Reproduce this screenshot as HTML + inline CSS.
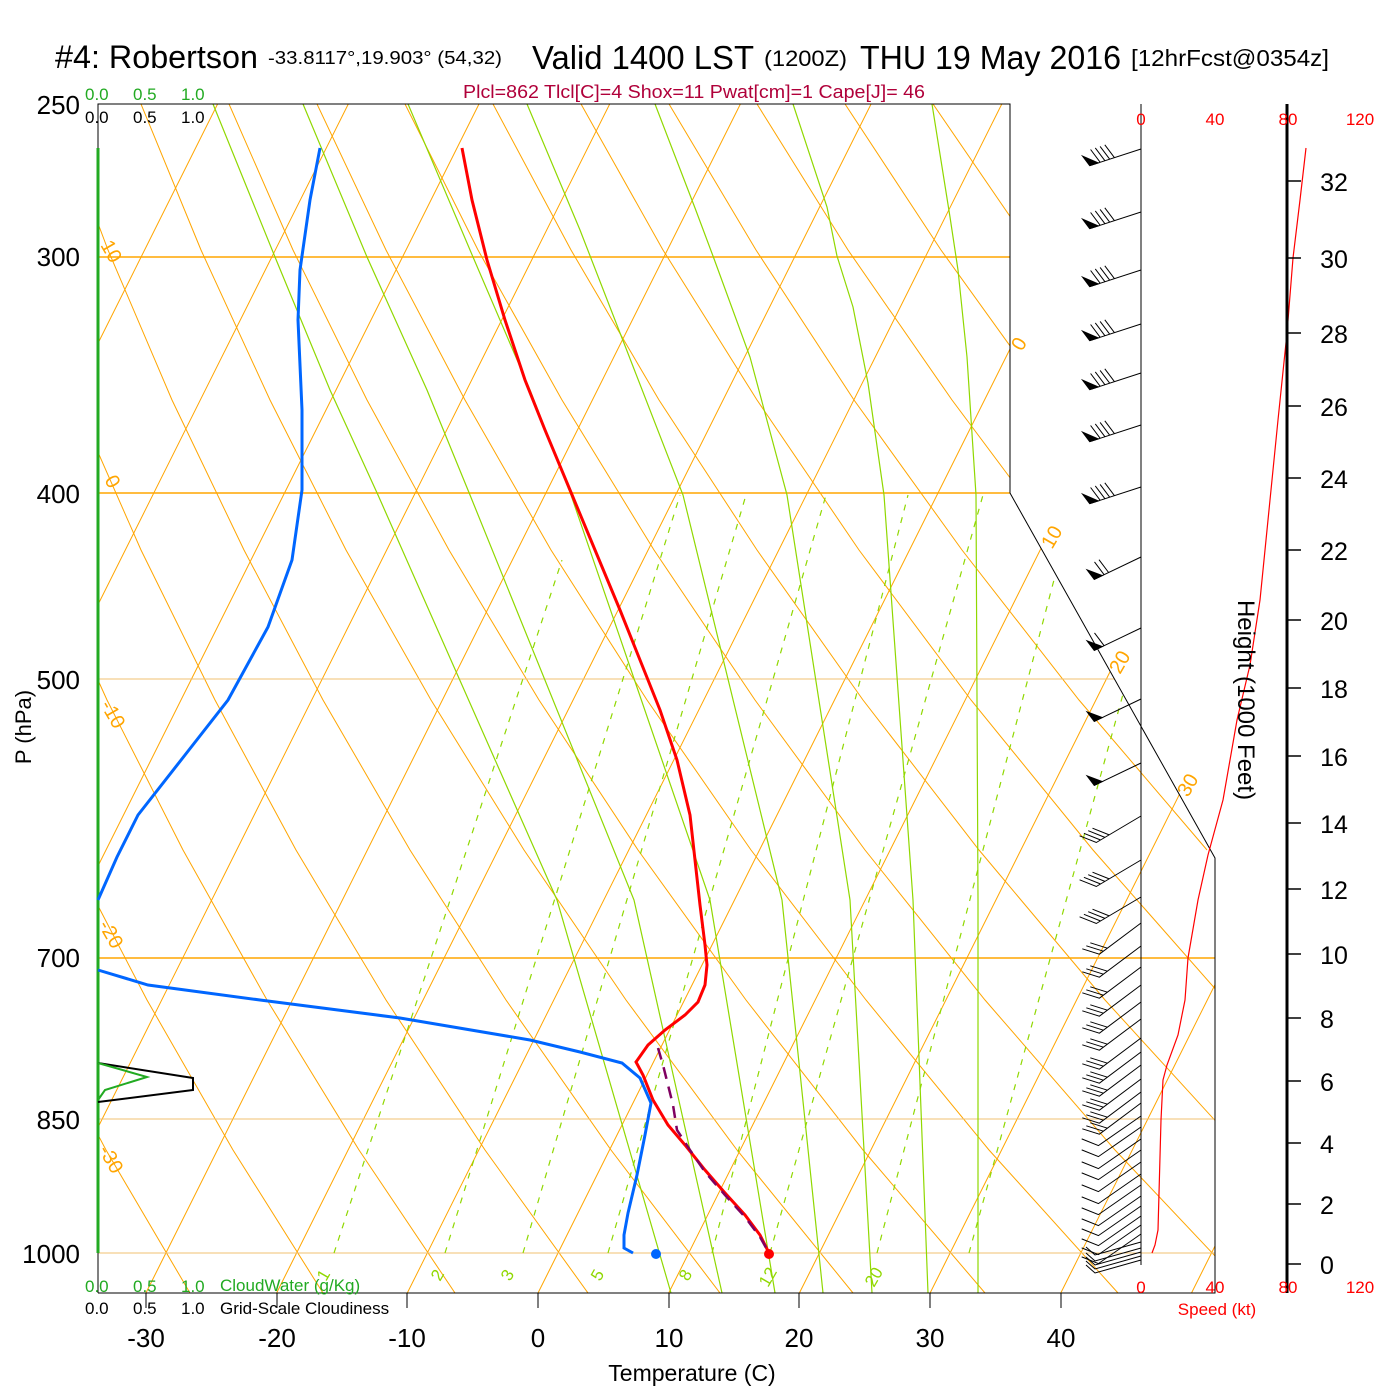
<!DOCTYPE html>
<html><head><meta charset="utf-8"><style>
html,body{margin:0;padding:0;background:#fff}
svg{display:block}
text{font-family:"Liberation Sans",Arial,sans-serif}
</style></head><body>
<svg width="1400" height="1400" viewBox="0 0 1400 1400" xmlns="http://www.w3.org/2000/svg">
<defs>
<clipPath id="cp"><polygon points="98,104 1010,104 1010,493 1215,858 1215,1293 98,1293"/></clipPath>
<g id="b1"><polyline points="1141,0 1089.7,16.7" fill="none"/><polygon points="1089.7,16.7 1098.3,13.9 1082.5,7.1"/><path d="M1100.2,13.3L1090.6,0.5M1104.9,11.7L1095.3,-1.1M1109.7,10.2L1100.1,-2.6M1114.4,8.6L1104.8,-4.2" fill="none"/></g>
<g id="b2a"><polyline points="1141,0 1094.2,22.4" fill="none"/><polygon points="1094.2,22.4 1102.3,18.5 1087,12.8"/><path d="M1104.1,17.7L1094.5,4.9M1108.6,15.5L1099,2.7" fill="none"/></g>
<g id="b2b"><polyline points="1141,0 1094.2,22.4" fill="none"/><polygon points="1094.2,22.4 1102.3,18.5 1087,12.8"/><path d="M1104.1,17.7L1094.5,4.9" fill="none"/></g>
<g id="b2c"><polyline points="1141,0 1094.2,22.4" fill="none"/><polygon points="1094.2,22.4 1102.3,18.5 1087,12.8"/></g>
<g id="b3" fill="none"><path d="M1141,0L1096.3,26.5L1079.6,19.8M1100.6,24L1083.9,17.3M1104.9,21.4L1088.2,14.7M1109.2,18.9L1092.5,12.2"/></g>
<g id="b4" fill="none"><path d="M1141,0L1099.4,31.2L1082.3,25.8M1103.4,28.2L1086.3,22.8M1107.4,25.2L1090.3,19.8"/></g>
<g id="b5" fill="none"><path d="M1141,0L1098.4,29.6L1081.7,22.9"/></g>
<g id="b6" fill="none"><path d="M1141,0L1095,13L1086,5"/></g>
</defs>
<rect width="1400" height="1400" fill="#fff"/>
<g clip-path="url(#cp)" fill="none" stroke="#ffa500" stroke-width="1">
<line x1="-507.6" y1="1293" x2="86.9" y2="104"/>
<line x1="-376.9" y1="1293" x2="217.6" y2="104"/>
<line x1="-246.2" y1="1293" x2="348.3" y2="104"/>
<line x1="-115.5" y1="1293" x2="479" y2="104"/>
<line x1="15.2" y1="1293" x2="609.7" y2="104"/>
<line x1="145.9" y1="1293" x2="740.4" y2="104"/>
<line x1="276.6" y1="1293" x2="871.1" y2="104"/>
<line x1="407.3" y1="1293" x2="1001.8" y2="104"/>
<line x1="538" y1="1293" x2="1132.5" y2="104"/>
<line x1="668.7" y1="1293" x2="1263.2" y2="104"/>
<line x1="799.4" y1="1293" x2="1393.9" y2="104"/>
<line x1="930.1" y1="1293" x2="1524.6" y2="104"/>
<line x1="1060.8" y1="1293" x2="1655.3" y2="104"/>
<line x1="1191.5" y1="1293" x2="1786" y2="104"/>
<polyline points="-387,104 -354,250 -315,400 -269,550 -217,700 -159,850 -93,1000 -20,1150 58,1293"/>
<polyline points="-299,104 -262,250 -217,400 -167,550 -109,700 -45,850 27,1000 106,1150 190,1293"/>
<polyline points="-211,104 -169,250 -120,400 -64,550 -1,700 69,850 147,1000 233,1150 323,1293"/>
<polyline points="-123,104 -77,250 -22,400 39,550 107,700 183,850 267,1000 359,1150 455,1293"/>
<polyline points="-35,104 16,250 75,400 141,550 215,700 296,850 386,1000 485,1150 588,1293"/>
<polyline points="53,104 108,250 172,400 244,550 323,700 410,850 506,1000 611,1150 720,1293"/>
<polyline points="141,104 201,250 270,400 346,550 431,700 524,850 626,1000 737,1150 853,1293"/>
<polyline points="229,104 293,250 367,400 449,550 539,700 638,850 746,1000 863,1150 985,1293"/>
<polyline points="317,104 386,250 465,400 551,550 647,700 751,850 866,1000 989,1150 1118,1293"/>
<polyline points="405,104 478,250 562,400 654,550 755,700 865,850 985,1000 1115,1150 1250,1293"/>
<polyline points="493,104 571,250 659,400 757,550 863,700 979,850 1105,1000 1242,1150"/>
<polyline points="581,104 663,250 757,400 859,550 971,700 1093,850 1225,1000"/>
<polyline points="669,104 756,250 854,400 962,550 1079,700 1207,850"/>
<polyline points="757,104 848,250 952,400 1064,550 1187,700"/>
<polyline points="845,104 941,250 1049,400 1167,550"/>
<polyline points="933,104 1033,250 1146,400"/>
<polyline points="1020,104 1126,250"/>
</g>
<g clip-path="url(#cp)" fill="none" stroke="#ffa500">
<line x1="98" y1="257" x2="1010" y2="257" stroke-width="1.5"/>
<line x1="98" y1="493" x2="1010" y2="493" stroke-width="1.5"/>
<line x1="98" y1="679" x2="1215" y2="679" stroke="#f0c070"/>
<line x1="98" y1="958" x2="1215" y2="958" stroke-width="1.5"/>
<line x1="98" y1="1119" x2="1215" y2="1119" stroke="#f0c070"/>
<line x1="98" y1="1253" x2="1215" y2="1253" stroke="#f0c070"/>
</g>
<g fill="none" stroke="#90d800" stroke-width="1.2">
<polyline points="213,104 275,257 330,390 378,495 557,900 671,1293"/>
<polyline points="303,104 367,257 427,390 470,495 634,900 722,1293"/>
<polyline points="408,104 473,257 530,390 571,495 710,900 775,1293"/>
<polyline points="527,104 580,230 683,495 782,900 823,1293"/>
<polyline points="655,104 695,208 713,256 750,357 787,495 850,900 872,1293"/>
<polyline points="793,104 827,207 837,256 853,307 868,383 884,495 913,900 928,1293"/>
<polyline points="932,104 950,217 958,270 967,357 976,495 978,900 978,1293"/>
</g>
<g clip-path="url(#cp)" fill="none" stroke="#90d800" stroke-width="1.2" stroke-dasharray="6,7">
<line x1="334" y1="1253" x2="562" y2="560"/>
<line x1="445" y1="1253" x2="680" y2="495"/>
<line x1="523" y1="1253" x2="746" y2="495"/>
<line x1="608" y1="1253" x2="826" y2="495"/>
<line x1="712" y1="1253" x2="908" y2="495"/>
<line x1="770" y1="1253" x2="983" y2="495"/>
<line x1="877" y1="1253" x2="1075" y2="500"/>
<line x1="969" y1="1253" x2="1160" y2="560"/>
</g>
<g fill="#90d800" font-size="17">
<text transform="translate(326,1282) rotate(-60)">1</text>
<text transform="translate(440,1282) rotate(-60)">2</text>
<text transform="translate(510,1282) rotate(-60)">3</text>
<text transform="translate(600,1282) rotate(-60)">5</text>
<text transform="translate(688,1282) rotate(-60)">8</text>
<text transform="translate(768,1288) rotate(-60)">12</text>
<text transform="translate(874,1288) rotate(-60)">20</text>
</g>
<g fill="#ffa500" font-size="20">
<text transform="translate(100,245) rotate(60)">10</text>
<text transform="translate(104,480) rotate(60)">0</text>
<text transform="translate(100,705) rotate(60)">-10</text>
<text transform="translate(98,925) rotate(60)">-20</text>
<text transform="translate(98,1150) rotate(60)">-30</text>
<text transform="translate(1022,352) rotate(-60)">0</text>
<text transform="translate(1052,550) rotate(-60)">10</text>
<text transform="translate(1120,675) rotate(-60)">20</text>
<text transform="translate(1188,798) rotate(-60)">30</text>
</g>
<g fill="none" stroke="#000" stroke-width="1">
<polyline points="98,1293 98,104 1010,104 1010,493 1215,858 1215,1293 98,1293"/>
<line x1="146" y1="1293" x2="146" y2="1308"/><line x1="277" y1="1293" x2="277" y2="1308"/>
<line x1="407" y1="1293" x2="407" y2="1308"/><line x1="538" y1="1293" x2="538" y2="1308"/>
<line x1="669" y1="1293" x2="669" y2="1308"/><line x1="799" y1="1293" x2="799" y2="1308"/>
<line x1="930" y1="1293" x2="930" y2="1308"/><line x1="1061" y1="1293" x2="1061" y2="1308"/>
<line x1="1141" y1="104" x2="1141" y2="1265"/>
</g>
<line x1="98" y1="148" x2="98" y2="1253" stroke="#22aa22" stroke-width="3"/>
<polyline points="98,1063 193,1078 193,1090 98,1102" fill="none" stroke="#000" stroke-width="2"/>
<polyline points="98,1063 147,1077 105,1090 98,1100" fill="none" stroke="#22aa22" stroke-width="2"/>
<polyline fill="none" stroke="#0066ff" stroke-width="3" points="320,148 310,200 300,270 298,320 302,410 302,490 292,560 268,627 228,700 185,755 138,815 117,857 98,900"/>
<polyline fill="none" stroke="#0066ff" stroke-width="3" points="98,970 148,985 260,1000 400,1018 530,1040 580,1052 622,1063 640,1078 651,1103 645,1135 637,1175 628,1213 624,1235 624,1248 633,1253"/>
<polyline fill="none" stroke="#ff0000" stroke-width="3" points="462,148 472,200 487,260 505,320 525,380 545,430 570,490 595,550 620,610 640,660 660,710 677,760 690,815 695,860 700,905 705,945 707,965 705,985 698,1002 685,1015 665,1030 648,1045 636,1062 643,1075 653,1100 668,1125 685,1145 705,1170 725,1193 745,1215 760,1235 769,1253"/>
<polyline fill="none" stroke="#800060" stroke-width="2.5" stroke-dasharray="12,8" points="658,1048 663,1065 668,1085 673,1105 677,1130 690,1150 705,1172 725,1195 745,1217 760,1237 769,1253"/>
<circle cx="769" cy="1254" r="5" fill="#ff0000"/>
<circle cx="656" cy="1254" r="5" fill="#0066ff"/>
<polyline fill="none" stroke="#ff0000" stroke-width="1.2" points="1306,148 1300,200 1293,258 1287,333 1278,420 1270,500 1260,600 1250,665 1237,720 1223,800 1208,855 1198,900 1188,958 1185,1000 1178,1035 1167,1065 1163,1080 1161,1120 1158,1230 1155,1245 1152,1253"/>
<g stroke="#000" fill="#000" stroke-width="1">
<use href="#b1" y="149"/><use href="#b1" y="212"/><use href="#b1" y="270"/><use href="#b1" y="324"/>
<use href="#b1" y="373"/><use href="#b1" y="425"/><use href="#b1" y="487"/>
<use href="#b2a" y="557"/><use href="#b2b" y="628"/><use href="#b2c" y="699"/><use href="#b2c" y="763"/>
<use href="#b3" y="816"/><use href="#b3" y="860"/><use href="#b3" y="897"/>
<use href="#b4" y="923"/><use href="#b4" y="946"/><use href="#b4" y="967"/><use href="#b4" y="985"/>
<use href="#b4" y="1002"/><use href="#b4" y="1019"/><use href="#b4" y="1038"/><use href="#b4" y="1052"/>
<use href="#b4" y="1065"/><use href="#b4" y="1079"/><use href="#b4" y="1092"/><use href="#b4" y="1103"/>
<use href="#b5" y="1116"/><use href="#b5" y="1127"/><use href="#b5" y="1139"/><use href="#b5" y="1150"/>
<use href="#b5" y="1162"/><use href="#b5" y="1174"/><use href="#b5" y="1185"/><use href="#b5" y="1196"/>
<use href="#b5" y="1206"/><use href="#b5" y="1216"/><use href="#b5" y="1225"/><use href="#b5" y="1234"/>
<use href="#b6" y="1242"/><use href="#b6" y="1248"/><use href="#b6" y="1252"/><use href="#b6" y="1256"/><use href="#b6" y="1260"/>
</g>
<line x1="1287" y1="104" x2="1287" y2="1293" stroke="#000" stroke-width="3"/>
<g stroke="#000" stroke-width="1.5">
<line x1="1287" y1="181" x2="1301" y2="181"/><line x1="1287" y1="258" x2="1301" y2="258"/>
<line x1="1287" y1="333" x2="1301" y2="333"/><line x1="1287" y1="406" x2="1301" y2="406"/>
<line x1="1287" y1="478" x2="1301" y2="478"/><line x1="1287" y1="550" x2="1301" y2="550"/>
<line x1="1287" y1="620" x2="1301" y2="620"/><line x1="1287" y1="688" x2="1301" y2="688"/>
<line x1="1287" y1="756" x2="1301" y2="756"/><line x1="1287" y1="823" x2="1301" y2="823"/>
<line x1="1287" y1="889" x2="1301" y2="889"/><line x1="1287" y1="954" x2="1301" y2="954"/>
<line x1="1287" y1="1018" x2="1301" y2="1018"/><line x1="1287" y1="1081" x2="1301" y2="1081"/>
<line x1="1287" y1="1143" x2="1301" y2="1143"/><line x1="1287" y1="1204" x2="1301" y2="1204"/>
<line x1="1287" y1="1264" x2="1301" y2="1264"/>
</g>
<g font-size="25" fill="#000" text-anchor="middle">
<text x="1334" y="191">32</text><text x="1334" y="268">30</text><text x="1334" y="343">28</text>
<text x="1334" y="416">26</text><text x="1334" y="488">24</text><text x="1334" y="560">22</text>
<text x="1334" y="630">20</text><text x="1334" y="698">18</text><text x="1334" y="766">16</text>
<text x="1334" y="833">14</text><text x="1334" y="899">12</text><text x="1334" y="964">10</text>
<text x="1327" y="1028">8</text><text x="1327" y="1091">6</text><text x="1327" y="1153">4</text>
<text x="1327" y="1214">2</text><text x="1327" y="1274">0</text>
</g>
<text transform="translate(1238,700) rotate(90)" font-size="24" text-anchor="middle">Height (1000 Feet)</text>
<g font-size="17" fill="#ff0000" text-anchor="middle">
<text x="1141" y="125">0</text><text x="1215" y="125">40</text><text x="1288" y="125">80</text><text x="1360" y="125">120</text>
<text x="1141" y="1293">0</text><text x="1215" y="1293">40</text><text x="1288" y="1293">80</text><text x="1360" y="1293">120</text>
<text x="1217" y="1315">Speed (kt)</text>
</g>
<text x="55" y="68" font-size="32" textLength="203" lengthAdjust="spacingAndGlyphs">#4: Robertson</text>
<text x="268" y="64" font-size="18" textLength="234" lengthAdjust="spacingAndGlyphs">-33.8117°,19.903° (54,32)</text>
<text x="532" y="69" font-size="33" textLength="222" lengthAdjust="spacingAndGlyphs">Valid 1400 LST</text>
<text x="764" y="66" font-size="22" textLength="83" lengthAdjust="spacingAndGlyphs">(1200Z)</text>
<text x="860" y="69" font-size="33" textLength="261" lengthAdjust="spacingAndGlyphs">THU 19 May 2016</text>
<text x="1131" y="66" font-size="23" textLength="198" lengthAdjust="spacingAndGlyphs">[12hrFcst@0354z]</text>
<text x="463" y="98" font-size="18" fill="#b0003a" textLength="462" lengthAdjust="spacingAndGlyphs">Plcl=862 Tlcl[C]=4 Shox=11 Pwat[cm]=1 Cape[J]= 46</text>
<g font-size="17" fill="#22aa22"><text x="85" y="100">0.0</text><text x="133" y="100">0.5</text><text x="181" y="100">1.0</text></g>
<g font-size="17" fill="#000"><text x="85" y="123">0.0</text><text x="133" y="123">0.5</text><text x="181" y="123">1.0</text></g>
<g font-size="17" fill="#22aa22"><text x="85" y="1292">0.0</text><text x="133" y="1292">0.5</text><text x="181" y="1292">1.0</text><text x="220" y="1291">CloudWater (g/Kg)</text></g>
<g font-size="17" fill="#000"><text x="85" y="1314">0.0</text><text x="133" y="1314">0.5</text><text x="181" y="1314">1.0</text><text x="220" y="1314">Grid-Scale Cloudiness</text></g>
<g font-size="26" fill="#000" text-anchor="end">
<text x="80" y="114">250</text><text x="80" y="266">300</text><text x="80" y="503">400</text>
<text x="80" y="689">500</text><text x="80" y="967">700</text><text x="80" y="1129">850</text><text x="80" y="1263">1000</text>
</g>
<text transform="translate(31,727) rotate(-90)" font-size="22" text-anchor="middle">P (hPa)</text>
<g font-size="26" fill="#000" text-anchor="middle">
<text x="146" y="1347">-30</text><text x="277" y="1347">-20</text><text x="407" y="1347">-10</text><text x="538" y="1347">0</text>
<text x="669" y="1347">10</text><text x="799" y="1347">20</text><text x="930" y="1347">30</text><text x="1061" y="1347">40</text>
</g>
<text x="692" y="1381" font-size="23" text-anchor="middle">Temperature (C)</text>
</svg>
</body></html>
